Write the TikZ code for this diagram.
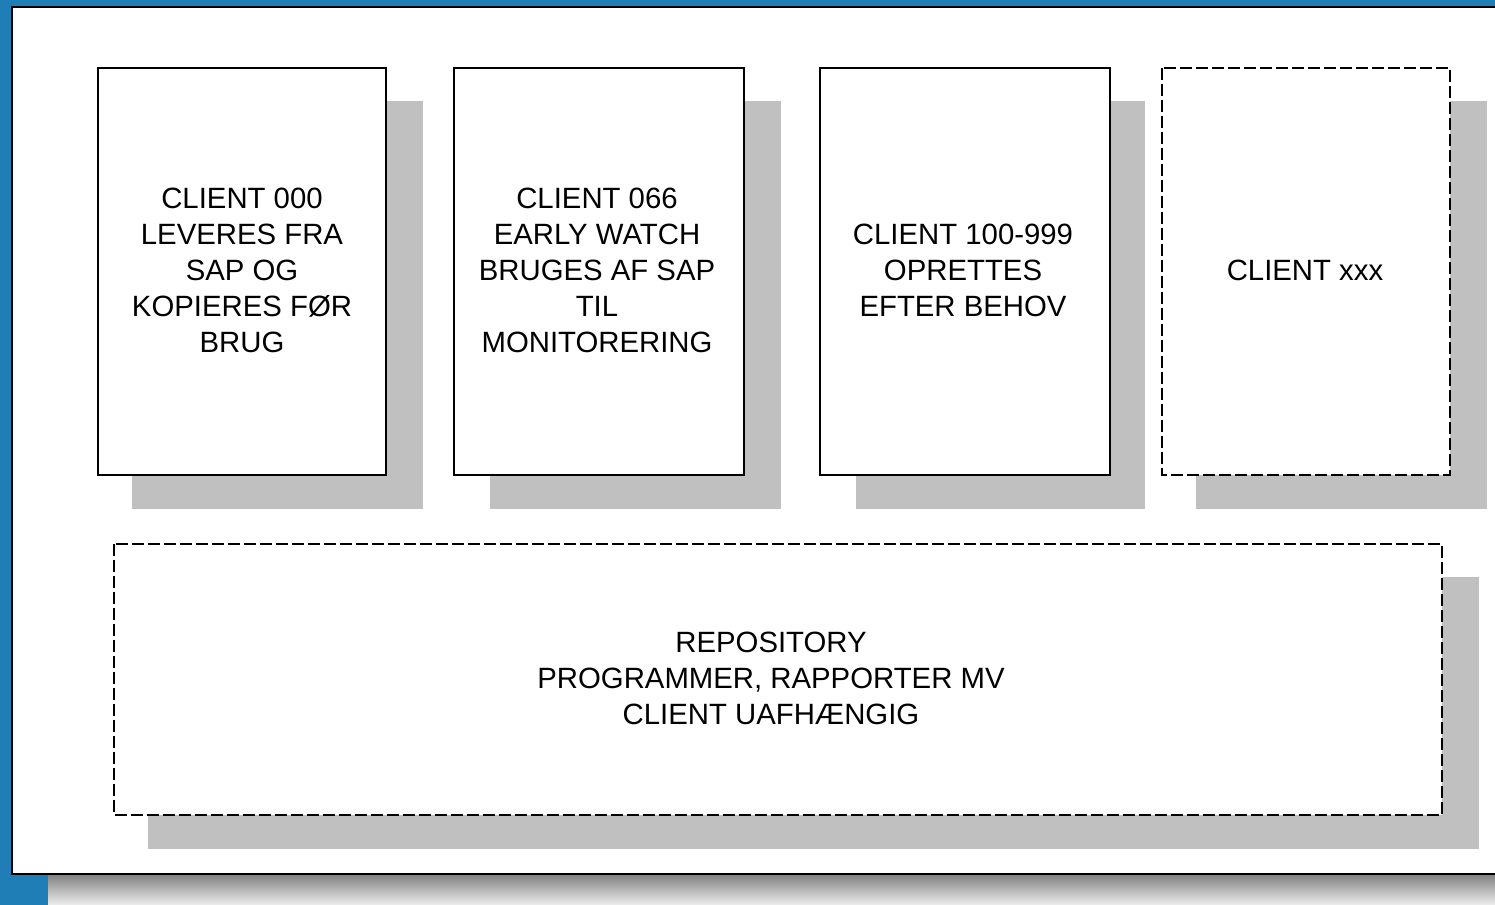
\documentclass[tikz,border=0pt]{standalone}
\usepackage{fontspec}
\setmainfont{Liberation Sans}
\definecolor{bgblue}{RGB}{31,126,182}
\definecolor{shade}{RGB}{192,192,192}
\begin{document}
\begin{tikzpicture}[x=0.75pt,y=-0.75pt,
  shadowbox/.style={fill=shade,draw=none},
  clientbox/.style={draw=black,fill=white,line width=1.5pt},
  dashbox/.style={draw=black,fill=white,line width=1.5pt,dash pattern=on 9pt off 3pt},
  lbl/.style={align=center,font=\fontsize{22pt}{27pt}\selectfont,inner sep=0pt}]
\useasboundingbox (0,0) rectangle (1495,904);
\fill[bgblue] (-5,-5) rectangle (1500,910);
% panel shadow
\fill[shade] (48,874) rectangle (1500,910);
% panel
\fill[white] (12,7) rectangle (1500,874);
\draw[black,line width=2pt] (1500,7) -- (12,7) -- (12,874) -- (1500,874);
% shadows
\fill[shadowbox] (132,101) rectangle (423,509);
\fill[shadowbox] (490,101) rectangle (781,509);
\fill[shadowbox] (856,101) rectangle (1145,509);
\fill[shadowbox] (1196,101) rectangle (1487,509);
\fill[shadowbox] (148,577) rectangle (1479,849);
% boxes
\draw[clientbox] (98,68) rectangle (386,475);
\draw[clientbox] (454,68) rectangle (744,475);
\draw[clientbox] (820,68) rectangle (1110,475);
\draw[dashbox] (1162,68) rectangle (1450,475);
\draw[dashbox] (114,544) rectangle (1442,815);
% labels
\node[lbl] (c000) at (242,270) {CLIENT 000\\LEVERES FRA\\SAP OG\\KOPIERES FØR\\BRUG};
\node[lbl] (c066) at (597,270) {CLIENT 066\\EARLY WATCH\\BRUGES AF SAP\\TIL\\MONITORERING};
\node[lbl] (c100) at (963,270) {CLIENT 100-999\\OPRETTES\\EFTER BEHOV};
\node[lbl] (cxxx) at (1305,270) {CLIENT xxx};
\node[lbl] (repo) at (771,678) {REPOSITORY\\PROGRAMMER, RAPPORTER MV\\CLIENT UAFHÆNGIG};
\end{tikzpicture}
\end{document}
